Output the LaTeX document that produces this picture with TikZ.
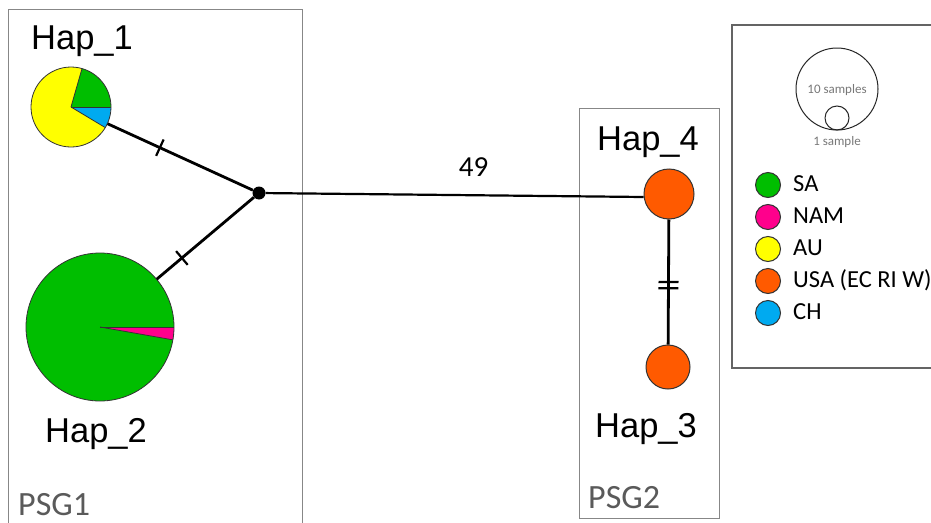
\documentclass[tikz,border=0pt]{standalone}
\usepackage{fontspec}
\setmainfont{Liberation Sans}
\newfontfamily\carl{Carlito}
\usetikzlibrary{decorations.markings}
\definecolor{sagreen}{RGB}{0,190,0}
\definecolor{nampink}{RGB}{255,0,140}
\definecolor{auyellow}{RGB}{255,255,0}
\definecolor{usaorange}{RGB}{255,90,0}
\definecolor{chblue}{RGB}{0,170,240}
\definecolor{boxgray}{RGB}{135,135,135}
\definecolor{legboxgray}{RGB}{100,100,100}
\definecolor{psggray}{RGB}{90,90,90}
\definecolor{smallgray}{RGB}{120,120,120}
\tikzset{
  groupbox/.style={draw=boxgray, line width=1pt},
  legbox/.style={draw=legboxgray, line width=1.5pt},
  hapnode/.style={circle, inner sep=0pt, minimum size=#1},
  hapfill/.style={circle, inner sep=0pt, minimum size=#1, fill=usaorange, draw=black!80, line width=1pt},
  junction/.style={circle, fill=black, inner sep=0pt, minimum size=13pt},
  conn/.style={draw=black, line width=2.8pt},
  slice/.style={draw=black!80, line width=0.8pt},
  haplabel/.style={anchor=base, inner sep=0pt, font=\fontsize{34.5}{38}\selectfont},
  psglabel/.style={anchor=base west, inner sep=0pt, text=psggray, font=\carl\fontsize{34}{38}\selectfont},
  legdot/.style={circle, inner sep=0pt, minimum size=25pt, draw=black!80, line width=1pt, fill=#1},
  legtext/.style={anchor=base west, inner sep=0pt, font=\carl\fontsize{24.5}{28}\selectfont},
  smalltext/.style={inner sep=0pt, text=smallgray, font=\carl\fontsize{13}{15}\selectfont},
  onetick/.style={postaction={decorate}, decoration={markings,
      mark=at position #1 with {\draw[line width=2.2pt] (0,-9pt) -- (0,9pt);}}},
  twoticks/.style={postaction={decorate}, decoration={markings,
      mark=at position 0.5 with {\draw[line width=2.2pt] (0,-10pt) -- (0,10pt);},
      mark=at position 0.55 with {\draw[line width=2.2pt] (0,-10pt) -- (0,10pt);}}}
}
\begin{document}
\begin{tikzpicture}[x=1pt,y=-1pt]
\clip (0,0) rectangle (931,522);
\fill[white] (0,0) rectangle (931,522);

% group boxes
\draw[groupbox] (8,9) rectangle (302,540);
\draw[groupbox] (579,108) rectangle (719,518);
\draw[legbox] (732,25) rectangle (960,368);

% haplotype nodes
\node[hapnode=80pt] (hap1) at (71,107) {};
\node[hapnode=148pt] (hap2) at (100,327) {};
\node[junction] (j) at (259,193) {};
\node[hapfill=50pt] (hap4) at (669,194) {};
\node[hapfill=44pt] (hap3) at (668,367) {};

% pie Hap_1
\fill[auyellow] (hap1.center) -- ++(74:40pt) arc[start angle=74, end angle=329, radius=40pt] -- cycle;
\fill[sagreen] (hap1.center) -- ++(0:40pt) arc[start angle=0, end angle=74, radius=40pt] -- cycle;
\fill[chblue] (hap1.center) -- ++(-31:40pt) arc[start angle=-31, end angle=0, radius=40pt] -- cycle;
\draw[slice] (hap1.center) -- ++(74:40pt);
\draw[slice] (hap1.center) -- ++(0:40pt);
\draw[slice] (hap1.center) -- ++(-31:40pt);
\draw[slice] (hap1.center) circle[radius=40pt];

% pie Hap_2
\fill[sagreen] (hap2.center) circle[radius=74pt];
\fill[nampink] (hap2.center) -- ++(-10:74pt) arc[start angle=-10, end angle=0, radius=74pt] -- cycle;
\draw[slice] (hap2.center) -- ++(-10:74pt);
\draw[slice] (hap2.center) -- ++(0:74pt);
\draw[slice] (hap2.center) circle[radius=74pt];

% connectors
\draw[conn, onetick=0.36] (hap1) -- (j);
\draw[conn, onetick=0.26] (hap2) -- (j);
\draw[draw=black, line width=2.2pt] (j) -- node[pos=0.55, above=18pt, font=\carl\fontsize{29}{32}\selectfont, inner sep=0pt] (lab49) {49} ([yshift=-3pt]hap4.west);
\draw[conn, twoticks] (hap4) -- (hap3);

% labels
\node[haplabel] (l1) at (82,49) {Hap\_1};
\node[haplabel] (l2) at (96,442) {Hap\_2};
\node[haplabel] (l4) at (648,150) {Hap\_4};
\node[haplabel] (l3) at (646,437) {Hap\_3};
\node[psglabel] (p1) at (18,515) {PSG1};
\node[psglabel] (p2) at (588,508) {PSG2};

% legend size circles
\node[circle, draw=black!85, line width=1pt, minimum size=82pt, inner sep=0pt] (big) at (837,89) {};
\node[circle, draw=black!85, line width=1pt, minimum size=24pt, inner sep=0pt] (small) at (837,118) {};
\node[smalltext] (t10) at (837,90) {10 samples};
\node[smalltext] (t1) at (837,142) {1 sample};

% legend colours
\node[legdot=sagreen] (c1) at (768,185) {};
\node[legdot=nampink] (c2) at (768,217) {};
\node[legdot=auyellow] (c3) at (768,249) {};
\node[legdot=usaorange] (c4) at (768,281) {};
\node[legdot=chblue] (c5) at (768,313) {};
\node[legtext] (s1) at (793,191) {SA};
\node[legtext] (s2) at (793,223) {NAM};
\node[legtext] (s3) at (793,255) {AU};
\node[legtext] (s4) at (793,287) {USA (EC RI W)};
\node[legtext] (s5) at (793,319) {CH};
\end{tikzpicture}
\end{document}
